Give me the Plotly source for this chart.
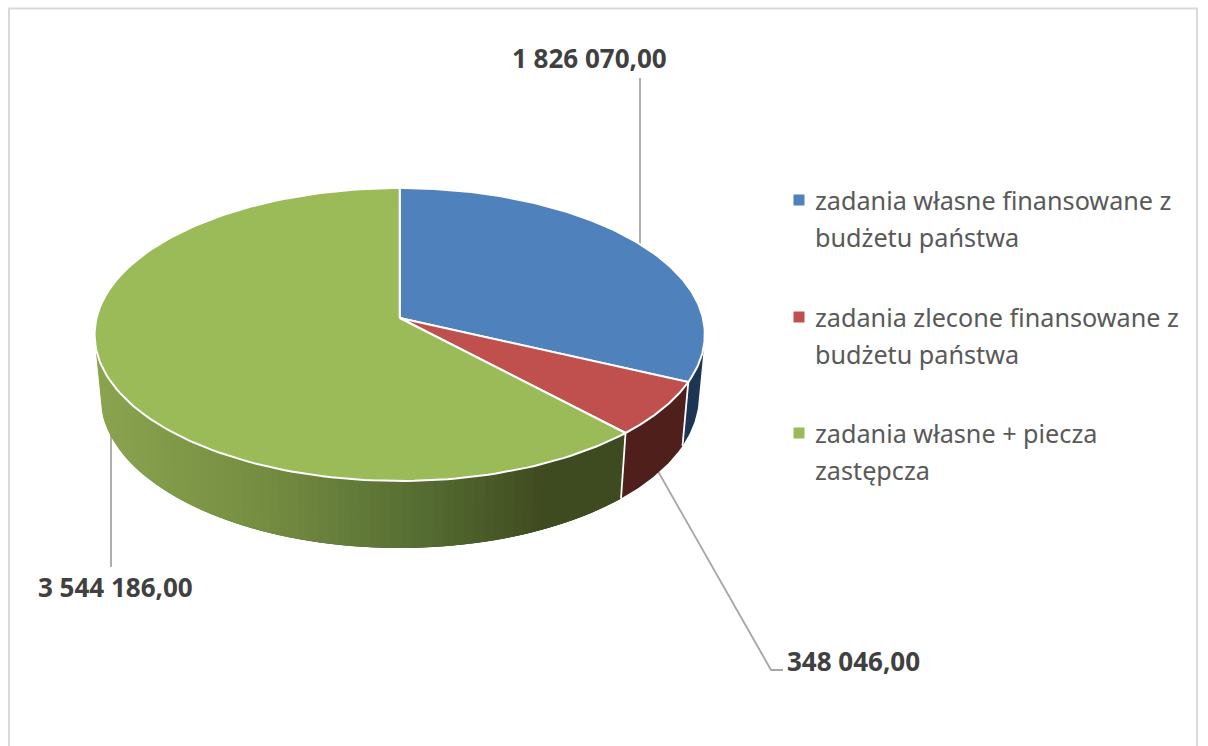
import numpy as np
import plotly.graph_objects as go

categories = ["zadania własne finansowane z budżetu państwa",
              "zadania zlecone finansowane z budżetu państwa",
              "zadania własne + piecza zastępcza"]
legend_lines = [["zadania własne finansowane z", "budżetu państwa"],
                ["zadania zlecone finansowane z", "budżetu państwa"],
                ["zadania własne + piecza", "zastępcza"]]
values = [1826070.00, 348046.00, 3544186.00]
value_labels = ["1 826 070,00", "348 046,00", "3 544 186,00"]
top_colors = ["#4F81BD", "#C0504D", "#9BBB59"]
wall_colors = ["#1C3552", "#4F1F1C", None]
green_wall_stops = [(100, (138, 163, 79)), (250, (115, 140, 65)), (400, (85, 108, 50)), (525, (62, 74, 31)), (640, (62, 74, 31))]

# projection of the tilted disc onto the page
CX, K = 399.7, 0.1126
R_TOP, Y_TOP, A_TOP = 303.2, 318.0, -108.8
SCALE_BOT = 0.98
Y_BOT = 379.7
VISIBLE_WALL = (100.0, 260.0)


def project(theta_deg, level):
    t = np.radians(theta_deg)
    u, v = np.sin(t), np.cos(t)
    d = 1 + K * v
    if level == "top":
        return CX + R_TOP * u / d, (Y_TOP + A_TOP * v) / d
    return CX + R_TOP * SCALE_BOT * u / d, (Y_BOT + A_TOP * SCALE_BOT * v) / d


total = sum(values)
edges = np.concatenate([[0.0], np.cumsum(values) / total * 360.0])

fig = go.Figure()


def poly(xs, ys, color, line_color=None, width=0.0):
    fig.add_trace(go.Scatter(x=list(xs), y=list(ys), mode="lines", fill="toself", fillcolor=color,
                             line=dict(color=line_color or color, width=width),
                             hoverinfo="skip", showlegend=False))


def leader(xs, ys):
    fig.add_trace(go.Scatter(x=xs, y=ys, mode="lines", line=dict(color="#A6A6A6", width=1.8),
                             hoverinfo="skip", showlegend=False))


# leader lines (drawn first, the pie covers their inner ends)
leader([640, 640], [78, 245])
leader([655, 771, 783], [466, 670, 670])
leader([111, 111], [430, 567])


def green_color(x):
    xs = [s[0] for s in green_wall_stops]
    return "rgb(%d,%d,%d)" % tuple(np.interp(x, xs, [s[1][c] for s in green_wall_stops]) for c in range(3))


# walls
for i in range(3):
    a = max(edges[i], VISIBLE_WALL[0])
    b = min(edges[i + 1], VISIBLE_WALL[1])
    if b <= a:
        continue
    if wall_colors[i]:
        th = np.linspace(a, b, 40)
        tx, ty = project(th, "top")
        bx, by = project(th, "bot")
        poly(np.r_[tx, bx[::-1]], np.r_[ty, by[::-1]], wall_colors[i])
    else:
        th = np.linspace(a, b, 70)
        step = th[1] - th[0]
        for n, (t0, t1) in enumerate(zip(th[:-1], th[1:])):
            # each band reaches back under the previous one, so no seams show
            s = np.linspace(max(a, t0 - 2 * step), t1, 4)
            tx, ty = project(s, "top")
            bx, by = project(s, "bot")
            poly(np.r_[tx, bx[::-1]], np.r_[ty, by[::-1]], green_color((tx[-1] + bx[-1]) / 2))

# white seams between walls
for e in edges[1:3]:
    tx, ty = project(e, "top")
    bx, by = project(e, "bot")
    fig.add_trace(go.Scatter(x=[tx, bx], y=[ty, by], mode="lines", line=dict(color="#FFFFFF", width=1.8),
                             hoverinfo="skip", showlegend=False))

# top faces
for i in range(3):
    th = np.linspace(edges[i], edges[i + 1], 160)
    x, y = project(th, "top")
    poly(np.r_[CX, x, CX], np.r_[Y_TOP, y, Y_TOP], top_colors[i], "#FFFFFF", 2)

# legend swatches
LEG_Y = [200, 317, 433]
for i in range(3):
    fig.add_trace(go.Scatter(x=[799], y=[LEG_Y[i]], mode="markers", name=categories[i],
                             marker=dict(symbol="square", size=11, color=top_colors[i]),
                             hoverinfo="name", showlegend=False))

ann = []
for i, lines in enumerate(legend_lines):
    for j, line in enumerate(lines):
        ann.append(dict(x=813, y=LEG_Y[i] + j * 36.5, text=line, xref="x", yref="y", xanchor="left", yanchor="middle",
                        showarrow=False, font=dict(family="Noto Sans", size=25.2, color="#595959")))
for (x, y), t in zip([(589, 58), (853.5, 661), (115.5, 587)], value_labels):
    ann.append(dict(x=x, y=y, text="<b>%s</b>" % t, xref="x", yref="y", xanchor="center", yanchor="middle",
                    showarrow=False, font=dict(family="Open Sans", size=26, color="#404040")))

fig.update_layout(
    width=1208, height=746, margin=dict(l=0, r=0, t=0, b=0),
    paper_bgcolor="#FFFFFF", plot_bgcolor="#FFFFFF", showlegend=False, annotations=ann,
    xaxis=dict(range=[0, 1208], visible=False, fixedrange=True),
    yaxis=dict(range=[746, 0], visible=False, fixedrange=True),
    shapes=[dict(type="path", path="M 9 760 L 9 8.5 L 1197 8.5 L 1197 760", xref="x", yref="y",
                 line=dict(color="#D9D9D9", width=2), layer="below")],
)
fig.write_html("out.html", config=dict(displayModeBar=False),
               post_script="document.body.style.margin='0';")
